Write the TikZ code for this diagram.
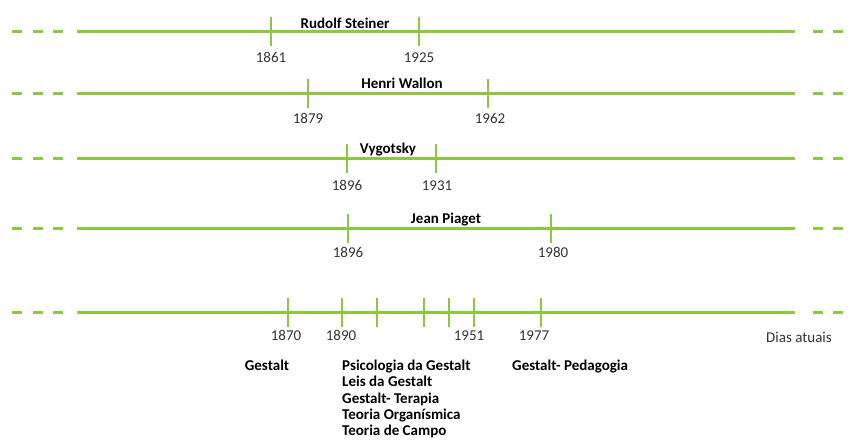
\documentclass[tikz,border=0pt]{standalone}
\usepackage{fontspec}
\setmainfont{Carlito}
\definecolor{lime}{HTML}{8DC63F}
\definecolor{yeartext}{HTML}{333333}
\begin{document}
\begin{tikzpicture}[x=1pt,y=-1pt,
  axis/.style={draw=lime,line width=3pt},
  axisdash/.style={draw=lime,line width=3pt,dash pattern=on 10pt off 10.5pt},
  tick/.style={draw=lime,line width=2.6pt},
  year/.style={font=\fontsize{15}{17}\selectfont,text=yeartext,anchor=base,inner sep=0pt},
  person/.style={font=\fontsize{15}{17}\selectfont\bfseries,anchor=base,inner sep=0pt},
  topic/.style={font=\fontsize{15}{17}\selectfont\bfseries,anchor=base west,inner sep=0pt},
  topiccenter/.style={font=\fontsize{15}{17}\selectfont\bfseries,anchor=base,inner sep=0pt}]
\useasboundingbox (0,0) rectangle (853,440);

% one horizontal axis: dashed lead-in, solid span, dashed lead-out
\foreach \row/\y in {a/31.5,b/93,c/158,d/228,e/312}{
  \coordinate (\row-l0) at (12,\y);
  \coordinate (\row-l1) at (64,\y);
  \coordinate (\row-s0) at (77,\y);
  \coordinate (\row-s1) at (795,\y);
  \coordinate (\row-r0) at (812.5,\y);
  \coordinate (\row-r1) at (850,\y);
  \draw[axisdash] (\row-l0) -- (\row-l1);
  \draw[axis] (\row-s0) -- (\row-s1);
  \draw[axisdash] (\row-r0) -- (\row-r1);
}

% tick marks
\foreach \row/\x/\y/\n in {a/271/31.5/1,a/419/31.5/2,b/308/93/1,b/488/93/2,
  c/347/158/1,c/436/158/2,d/348/228/1,d/551/228/2,
  e/288/312/1,e/342/312/2,e/377/312/3,e/424/312/4,e/449/312/5,e/474/312/6,e/541/312/7}{
  \coordinate (\row-t\n) at (\x,\y);
  \draw[tick] ([yshift=-14.5pt]\row-t\n) -- ([yshift=14.5pt]\row-t\n);
}

% Rudolf Steiner
\node[person] (steiner) at (345,28) {Rudolf Steiner};
\node[year] (y1861) at (271,62.5) {1861};
\node[year] (y1925) at (419,62.5) {1925};

% Henri Wallon
\node[person] (wallon) at (402,88.5) {Henri Wallon};
\node[year] (y1879) at (308,123) {1879};
\node[year] (y1962) at (490,123) {1962};

% Vygotsky
\node[person] (vygotsky) at (388,153) {Vygotsky};
\node[year] (y1896a) at (347,190) {1896};
\node[year] (y1931) at (437,190) {1931};

% Jean Piaget
\node[person] (piaget) at (446,223) {Jean Piaget};
\node[year] (y1896b) at (348,257) {1896};
\node[year] (y1980) at (553,257) {1980};

% Gestalt axis
\node[year] (y1870) at (286,340) {1870};
\node[year] (y1890) at (341,340) {1890};
\node[year] (y1951) at (469,340) {1951};
\node[year] (y1977) at (534,340) {1977};
\node[year] (today) at (799,342) {Dias atuais};

\node[topiccenter] (gestalt) at (267,370) {Gestalt};
\node[topic] (psico) at (342,370) {Psicologia da Gestalt};
\node[topic] (leis) at (342,386.5) {Leis da Gestalt};
\node[topic] (terapia) at (342,403) {Gestalt- Terapia};
\node[topic] (organ) at (342,419.5) {Teoria Organísmica};
\node[topic] (campo) at (342,435.5) {Teoria de Campo};
\node[topic] (pedag) at (512,370) {Gestalt- Pedagogia};
\end{tikzpicture}
\end{document}
